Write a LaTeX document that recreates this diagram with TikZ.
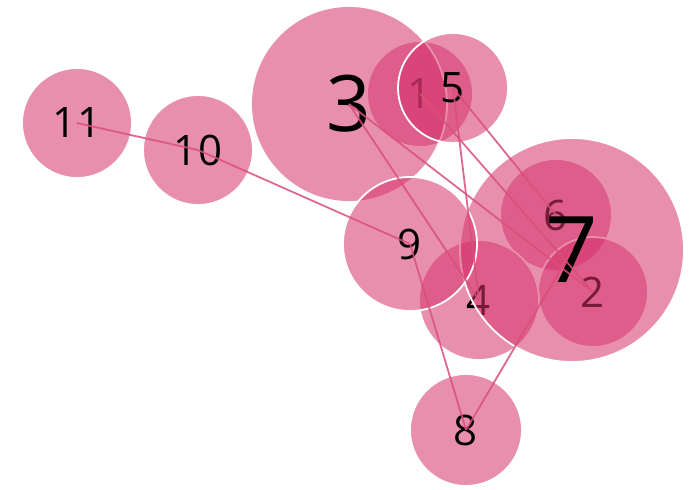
\documentclass[tikz,border=0pt]{standalone}
\usepackage{fontspec}
\setsansfont{Open Sans}
\definecolor{rose}{HTML}{D6336C}
\definecolor{roseline}{HTML}{D94F7A}
\begin{document}
\begin{tikzpicture}[x=1pt,y=-1pt,
  bubble/.style={circle,draw=white,line width=1.8pt,fill=rose,fill opacity=0.55,
    text opacity=1,inner sep=0pt,font=\sffamily\fontsize{42}{42}\selectfont},
  big/.style={font=\sffamily\fontsize{#1}{#1}\selectfont},
  link/.style={draw=roseline,line width=1.8pt,draw opacity=0.85}]
\useasboundingbox (0,0) rectangle (697,490);
% bubbles, back to front
\node[bubble,minimum size=106pt] (n1) at (420,94) {1};
\node[bubble,minimum size=112pt] (n6) at (556,215) {6};
\node[bubble,minimum size=110pt] (n2) at (593,292) {2};
\node[bubble,minimum size=120pt] (n4) at (479,300) {4};
\node[bubble,big=78,minimum size=196pt] (n3) at (349,104) {3};
\node[bubble,big=92,minimum size=224pt] (n7) at (572,250) {7};
\node[bubble,minimum size=110pt] (n5) at (453,88) {5};
\node[bubble,minimum size=134pt] (n9) at (410,244) {9};
\node[bubble,minimum size=112pt] (n8) at (466,430) {8};
\node[bubble,minimum size=110pt] (n10) at (198,150) {10};
\node[bubble,minimum size=110pt] (n11) at (77,123) {11};
% links
\draw[link] (n11.center) -- (n10.center);
\draw[link] (n10.center) -- (n9.center);
\draw[link] (n3.center) -- (n4.center);
\draw[link] (n3.center) -- (n2.center);
\draw[link] (n1.center) -- (n2.center);
\draw[link] (n5.center) -- (n4.center);
\draw[link] (n5.center) -- (n6.center);
\draw[link] (n9.center) -- (n8.center);
\draw[link] (n8.center) -- (n7.center);
\end{tikzpicture}
\end{document}
